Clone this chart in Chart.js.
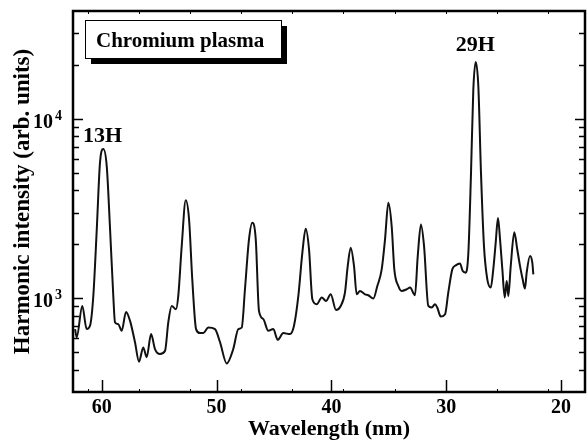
<!DOCTYPE html>
<html>
<head>
<meta charset="utf-8">
<script src="https://cdn.jsdelivr.net/npm/chart.js@4.4.1/dist/chart.umd.min.js"></script>
<style>
  html, body { margin: 0; padding: 0; background: #fff; }
  #wrap { width: 588px; height: 441px; }
</style>
</head>
<body>
<div id="wrap"><canvas id="spectrum" width="588" height="441"></canvas></div>
<script>
// ---------- DATA ----------
const wavelength = [
    62.33, 62.19, 61.70, 61.32, 61.03, 60.74, 60.44, 60.16, 59.87, 59.57,
    59.28, 59.00, 58.85, 58.56, 58.27, 57.89, 57.54, 57.11, 56.76, 56.39,
    56.09, 55.71, 55.37, 54.93, 54.49, 54.21, 53.91, 53.54, 53.34, 53.04,
    52.69, 52.40, 52.12, 51.79, 51.45, 51.16, 50.72, 50.14, 49.70, 49.12,
    48.55, 48.11, 47.81, 47.53, 47.18, 46.89, 46.59, 46.31, 45.93, 45.50,
    45.06, 44.68, 44.19, 43.61, 43.26, 42.88, 42.53, 42.24, 41.95, 41.66,
    41.28, 40.84, 40.47, 40.06, 39.60, 39.19, 38.82, 38.58, 38.32, 38.03,
    37.80, 37.51, 37.07, 36.79, 36.35, 36.00, 35.62, 35.33, 35.04, 34.75,
    34.52, 34.17, 33.88, 33.44, 33.15, 32.72, 32.48, 32.20, 31.93, 31.56,
    31.26, 30.98, 30.78, 30.48, 30.10, 29.82, 29.47, 29.17, 28.80, 28.56,
    28.30, 28.07, 27.84, 27.64, 27.43, 27.20, 26.97, 26.71, 26.42, 26.12,
    25.90, 25.69, 25.49, 25.31, 25.11, 24.90, 24.73, 24.59, 24.38, 24.07,
    23.81, 23.57, 23.34, 23.14, 22.99, 22.70, 22.50, 22.41
];
const intensity = [
    673, 607, 906, 673, 702, 1030, 2417, 5696, 6792, 5433,
    2417, 1030, 733, 717, 658, 839, 748, 568, 443, 532,
    469, 631, 521, 489, 510, 733, 906, 869, 1030, 1954,
    3515, 2748, 1275, 673, 639, 639, 687, 673, 568, 433,
    521, 673, 687, 1122, 2128, 2636, 2128, 850, 765, 658,
    673, 586, 639, 631, 702, 1030, 1795, 2438, 1871, 987,
    926, 1009, 966, 1052, 861, 906, 1076, 1511, 1915, 1511,
    1052, 1098, 1052, 1039, 996, 1170, 1449, 2128, 3404, 2521,
    1449, 1170, 1098, 1122, 1147, 1039, 1718, 2576, 1954, 906,
    888, 926, 888, 791, 815, 1076, 1449, 1525, 1564, 1418,
    1389, 1795, 4989, 14490, 20790, 15110, 4989, 1954, 1275, 1147,
    1449, 2037, 2806, 2128, 1449, 1009, 1248, 1030, 1511, 2334,
    1871, 1511, 1275, 1132, 1389, 1718, 1578, 1359
];

// axis ticks
const xTicks = [60, 50, 40, 30, 20];
const xMinorTicks = [61.2, 56.75, 52.3, 47.85, 43.4, 38.95, 34.49, 30.04, 25.59, 21.14];
const yMajorTicks = [1000, 10000];
const yMajorExponents = ['3', '4'];
const yMinorTicks = [400, 500, 600, 700, 800, 900, 2000, 3000, 4000, 5000, 6000, 7000, 8000, 9000, 20000, 30000];

// harmonic labels (baseline position, in data units)
const peakNames = ['13H', '29H'];
const peakLabelX = [59.94, 27.47];
const peakLabelY = [7480, 23930];

const legendText = 'Chromium plasma';

// ---------- STYLE ----------
const SERIF = "'Liberation Serif', 'Times New Roman', serif";

// frame, inward tick marks, exponents, legend box and peak labels
const decorPlugin = {
    id: 'decor',
    afterDraw(chart) {
        const ctx = chart.ctx;
        const a = chart.chartArea;
        const x = chart.scales.x;
        const y = chart.scales.y;
        ctx.save();
        ctx.strokeStyle = '#000';

        // y ticks on left and right
        ctx.lineWidth = 1.5;
        const yAll = yMajorTicks.map(v => [v, 10]).concat(yMinorTicks.map(v => [v, 6]));
        yAll.forEach(([v, len]) => {
            const py = Math.round(y.getPixelForValue(v)) + 0.5;
            ctx.beginPath();
            ctx.moveTo(a.left, py); ctx.lineTo(a.left + len, py);
            ctx.moveTo(a.right, py); ctx.lineTo(a.right - len, py);
            ctx.stroke();
        });

        // x ticks
        xTicks.forEach(v => {
            const px = Math.round(x.getPixelForValue(v)) + 0.5;
            ctx.beginPath();
            ctx.moveTo(px, a.bottom); ctx.lineTo(px, a.bottom - 12);
            ctx.stroke();
        });
        ctx.lineWidth = 1;
        xMinorTicks.forEach(v => {
            const px = Math.round(x.getPixelForValue(v)) + 0.5;
            ctx.beginPath();
            ctx.moveTo(px, a.bottom); ctx.lineTo(px, a.bottom - 3);
            ctx.moveTo(px, a.top); ctx.lineTo(px, a.top + 3);
            ctx.stroke();
        });

        // frame
        ctx.lineWidth = 2.5;
        ctx.strokeRect(a.left, a.top, a.right - a.left, a.bottom - a.top);

        ctx.fillStyle = '#000';
        ctx.textBaseline = 'alphabetic';

        // exponents of the 10^n tick labels
        ctx.font = 'bold 14px ' + SERIF;
        ctx.textAlign = 'left';
        yMajorTicks.forEach((v, i) => {
            ctx.fillText(yMajorExponents[i], 55, y.getPixelForValue(v) + 1);
        });

        // legend box with drop shadow
        ctx.fillRect(91, 26, 196, 38);
        ctx.fillStyle = '#fff';
        ctx.fillRect(85, 20, 196, 38);
        ctx.lineWidth = 1;
        ctx.strokeRect(85.5, 20.5, 196, 38);
        ctx.fillStyle = '#000';
        ctx.font = 'bold 21px ' + SERIF;
        ctx.fillText(legendText, 96, 47);

        // harmonic order labels
        ctx.font = 'bold 22px ' + SERIF;
        ctx.textAlign = 'center';
        peakNames.forEach((name, i) => {
            ctx.fillText(name, x.getPixelForValue(peakLabelX[i]), y.getPixelForValue(peakLabelY[i]));
        });
        ctx.restore();
    }
};

var ctx = document.getElementById('spectrum').getContext('2d');
var spectrumChart = new Chart(ctx, {
    type: 'line',
    data: {
        datasets: [{
            data: wavelength.map((w, i) => ({ x: w, y: intensity[i] })),
            borderColor: '#111',
            borderWidth: 2,
            pointRadius: 0,
            fill: false,
            cubicInterpolationMode: 'monotone'
        }]
    },
    options: {
        responsive: false,
        animation: false,
        events: [],
        layout: { padding: { left: 0, right: 3, top: 11, bottom: 0 } },
        plugins: {
            legend: { display: false },
            tooltip: { enabled: false }
        },
        scales: {
            x: {
                type: 'linear',
                reverse: true,
                min: 17.91,
                max: 62.51,
                afterBuildTicks: (scale) => { scale.ticks = xTicks.map(v => ({ value: v })); },
                afterFit: (scale) => {
                    scale.height = 49;
                    scale.paddingLeft = 0;
                    scale.paddingRight = 0;
                },
                grid: { display: false, drawTicks: false },
                border: { display: false },
                ticks: {
                    color: '#000',
                    font: { family: SERIF, size: 20, weight: 'bold' },
                    padding: 4,
                    autoSkip: false,
                    maxRotation: 0
                },
                title: {
                    display: true,
                    text: 'Wavelength (nm)',
                    color: '#000',
                    font: { family: SERIF, size: 22, weight: 'bold' },
                    padding: { top: 0, bottom: -2 }
                }
            },
            y: {
                type: 'logarithmic',
                min: 300,
                max: 40000,
                afterBuildTicks: (scale) => {
                    scale.ticks = yMinorTicks.concat(yMajorTicks).sort((p, q) => p - q).map(v => ({ value: v }));
                },
                afterFit: (scale) => {
                    scale.width = 73;
                    scale.paddingTop = 0;
                    scale.paddingBottom = 0;
                },
                grid: { display: false, drawTicks: false },
                border: { display: false },
                ticks: {
                    color: '#000',
                    font: { family: SERIF, size: 20, weight: 'bold' },
                    padding: 20,
                    labelOffset: 4,
                    autoSkip: false,
                    callback: (value) => yMajorTicks.includes(value) ? '10' : ''
                },
                title: {
                    display: true,
                    text: 'Harmonic intensity (arb. units)',
                    color: '#000',
                    font: { family: SERIF, size: 23, weight: 'bold' },
                    padding: { top: 9, bottom: 0 }
                }
            }
        }
    },
    plugins: [decorPlugin]
});
</script>
</body>
</html>
